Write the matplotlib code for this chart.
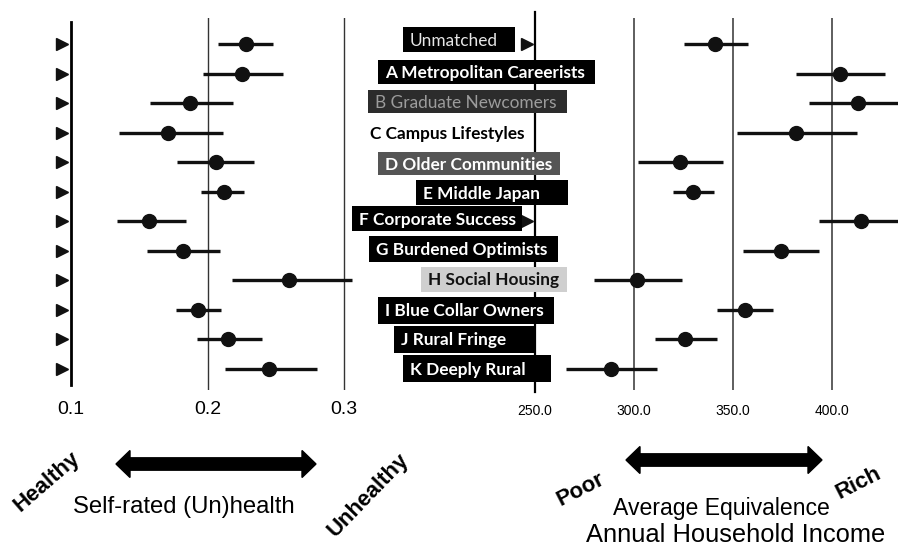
import numpy as np
import matplotlib
matplotlib.use("Agg")
import matplotlib.pyplot as plt
from matplotlib.patches import Rectangle, FancyArrow

# cluster labels (top to bottom)
groups = ["Unmatched", "A Metropolitan Careerists", "B Graduate Newcomers",
          "C Campus Lifestyles", "D Older Communities", "E Middle Japan",
          "F Corporate Success", "G Burdened Optimists", "H Social Housing",
          "I Blue Collar Owners", "J Rural Fringe", "K Deeply Rural"]

# self-rated (un)health: mean and interval
health_mean = [0.228, 0.225, 0.187, 0.171, 0.206, 0.212, 0.157, 0.182, 0.260, 0.193, 0.215, 0.245]
health_lo = [0.208, 0.197, 0.158, 0.135, 0.178, 0.195, 0.134, 0.156, 0.218, 0.177, 0.192, 0.213]
health_hi = [0.248, 0.255, 0.219, 0.211, 0.234, 0.227, 0.184, 0.209, 0.306, 0.210, 0.240, 0.280]

# average equivalence annual household income: mean and interval
income_mean = [341.1, 403.9, 413.3, 381.8, 323.2, 330.0, 414.8, 374.1, 301.4, 356.1, 325.8, 288.4]
income_lo = [325.3, 381.8, 388.4, 351.9, 302.2, 319.9, 393.6, 354.9, 280.0, 341.9, 310.6, 265.7]
income_hi = [357.6, 426.6, 440.0, 412.5, 344.8, 340.2, 440.0, 393.6, 324.1, 370.4, 341.8, 311.5]

health_ticks = [0.1, 0.2, 0.3]
income_ticks = [250.0, 300.0, 350.0, 400.0]
income_ref_rows = [0, 6]

W, H = 898, 548
fig = plt.figure(figsize=(W / 100, H / 100), dpi=100)


def fx(px):
    return px / W


def fy(py):
    return 1 - py / H


rows = np.arange(len(groups))
ylim = (11.711, -0.891)

# left panel: health
ax1 = fig.add_axes([fx(40), fy(390), fx(320), 372 / H])
ax1.set_xlim(0.07729, 0.31172)
ax1.set_ylim(*ylim)
ax1.axvline(0.1, color="black", lw=2.0, ymin=0.013, ymax=0.99)
for t in health_ticks[1:]:
    ax1.axvline(t, color="#333333", lw=1.0)
ax1.hlines(rows, health_lo, health_hi, color="#111111", lw=2.4)
ax1.plot(health_mean, rows, "o", color="#111111", ms=10)
ax1.plot([0.0935] * len(rows), rows, ">", color="#111111", ms=9, clip_on=False)
ax1.set_xticks(health_ticks)
ax1.set_xticklabels(["0.1", "0.2", "0.3"], family="Liberation Sans", fontsize=14)
ax1.tick_params(axis="x", length=0, pad=8)
ax1.set_yticks([])
for s in ax1.spines.values():
    s.set_visible(False)

# right panel: income
ax2 = fig.add_axes([fx(505), fy(390), fx(393), 372 / H])
ax2.set_xlim(234.85, 433.33)
ax2.set_ylim(*ylim)
ax2.axvline(250, color="black", lw=1.6, ymin=-0.005, ymax=1.015, clip_on=False)
for t in income_ticks[1:]:
    ax2.axvline(t, color="#333333", lw=1.1)
ax2.hlines(rows, income_lo, income_hi, color="#111111", lw=2.4)
ax2.plot(income_mean, rows, "o", color="#111111", ms=10)
ax2.plot([246.0] * len(income_ref_rows), income_ref_rows, ">", color="#111111", ms=8)
ax2.set_xticks(income_ticks)
ax2.set_xticklabels(["250.0", "300.0", "350.0", "400.0"], family="Liberation Sans", fontsize=10)
ax2.tick_params(axis="x", length=0, pad=10)
ax2.set_yticks([])
for s in ax2.spines.values():
    s.set_visible(False)

# label boxes (pixel layout)
boxes = [(403, 515, 27, 52, "black", "#e6e6e6", "normal"),
         (378, 595, 60, 84, "black", "white", "bold"),
         (368, 567, 90, 113, "#2c2c2c", "#9c9c9c", "normal"),
         (370, None, 121, 145, None, "black", "bold"),
         (378, 560, 152, 175, "#555555", "white", "bold"),
         (416, 568, 180, 205, "black", "white", "bold"),
         (352, 522, 206, 231, "black", "white", "bold"),
         (369, 558, 236, 262, "black", "white", "bold"),
         (421, 567, 267, 292, "#cfcfcf", "#111111", "bold"),
         (378, 554, 297, 324, "black", "white", "bold"),
         (394, 535, 326, 353, "black", "white", "bold"),
         (403, 551, 355, 382, "black", "white", "bold")]
for label, (x0, x1, y0, y1, fc, tc, wt) in zip(groups, boxes):
    if fc is not None:
        fig.patches.append(Rectangle((fx(x0), fy(y1)), fx(x1 - x0), (y1 - y0) / H,
                                     transform=fig.transFigure, facecolor=fc,
                                     edgecolor="none", zorder=5))
        xt = x0 + 7
    else:
        xt = x0
    fig.text(fx(xt), fy((y0 + y1) / 2 + 1), label, color=tc, fontsize=12.4,
             family="Lato", weight=wt, ha="left", va="center", zorder=6)

# bottom annotations
arrows = [(130, 302, 464), (640, 808, 460)]
for a, b, yy in arrows:
    for start, end in [(a, b), (b, a)]:
        fig.patches.append(FancyArrow(fx(start), fy(yy), fx(end - start), 0, width=12 / H,
                                      head_width=27 / H, head_length=fx(14),
                                      length_includes_head=False,
                                      transform=fig.transFigure, color="black"))

fig.text(fx(47), fy(482), "Healthy", rotation=41, fontsize=16, weight="bold",
         family="Liberation Sans", ha="center", va="center")
fig.text(fx(368), fy(495), "Unhealthy", rotation=46, fontsize=16, weight="bold",
         family="Liberation Sans", ha="center", va="center")
fig.text(fx(184), fy(507), "Self-rated (Un)health", fontsize=17.2,
         family="Liberation Sans", ha="center", va="center")
fig.text(fx(581), fy(490), "Poor", rotation=27, fontsize=16, weight="bold",
         family="Liberation Sans", ha="center", va="center")
fig.text(fx(858), fy(483), "Rich", rotation=27, fontsize=16, weight="bold",
         family="Liberation Sans", ha="center", va="center")
fig.text(fx(721), fy(508), "Average Equivalence", fontsize=16.6,
         family="Liberation Sans", ha="center", va="center")
fig.text(fx(736), fy(535), "Annual Household Income", fontsize=18.4,
         family="Liberation Sans", ha="center", va="center")

fig.savefig("out.png", dpi=100)
